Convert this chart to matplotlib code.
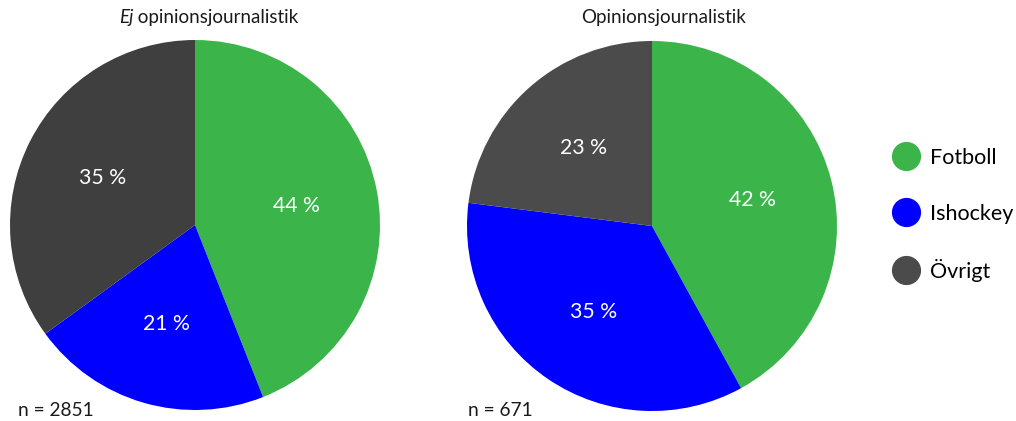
import matplotlib
matplotlib.use("Agg")
import matplotlib.pyplot as plt
from matplotlib.lines import Line2D

plt.rcParams['font.family'] = ['Lato', 'DejaVu Sans']

categories = ['Fotboll', 'Ishockey', 'Övrigt']
ej_opinion = [44, 21, 35]
opinion = [42, 35, 23]
n_ej = 2851
n_op = 671

green = '#3BB54A'
blue = '#0000FF'
gray_left = '#3F3F3F'
gray_right = '#4B4B4B'

fig = plt.figure(figsize=(10.16, 4.21), dpi=100)
W, H = 1016, 421


def pie_axes(cx, cy, r):
    ax = fig.add_axes([(cx - r) / W, (H - cy - r) / H, 2 * r / W, 2 * r / H])
    ax.set_xlim(-1, 1)
    ax.set_ylim(-1, 1)
    ax.axis('off')
    return ax


def draw_pie(ax, values, colors):
    ax.pie(values, colors=colors, startangle=90, counterclock=False,
           radius=1, center=(0, 0), frame=False,
           autopct=lambda p: f'{p:.0f} %', pctdistance=0.56,
           textprops=dict(color='white', fontsize=15.3),
           wedgeprops=dict(linewidth=0))
    ax.set_xlim(-1, 1)
    ax.set_ylim(-1, 1)


ax1 = pie_axes(195, 225, 185)
draw_pie(ax1, ej_opinion, [green, blue, gray_left])
ax2 = pie_axes(652, 226, 185)
draw_pie(ax2, opinion, [green, blue, gray_right])

# titles
t_ej = fig.text(119 / W, 1 - 18 / H, 'Ej', style='italic', fontsize=13.5,
                ha='left', va='center', color='#1a1a1a')
fig.canvas.draw()
ext = t_ej.get_window_extent()
fig.text(ext.x1 / W, 1 - 18 / H, ' opinionsjournalistik', fontsize=13.5,
         ha='left', va='center', color='#1a1a1a')
fig.text(664 / W, 1 - 18 / H, 'Opinionsjournalistik', fontsize=13.5,
         ha='center', va='center', color='#1a1a1a')

# sample sizes
fig.text(18 / W, 1 - 410 / H, f'n = {n_ej}', fontsize=13.8, ha='left',
         va='center', color='#1a1a1a')
fig.text(468 / W, 1 - 410 / H, f'n = {n_op}', fontsize=13.8, ha='left',
         va='center', color='#1a1a1a')

handles = [Line2D([], [], marker='o', linestyle='none', markersize=20,
                  markerfacecolor=c, markeredgecolor=c)
           for c in [green, blue, gray_right]]
fig.legend(handles, categories, loc='center left',
           bbox_to_anchor=(884 / W, 1 - 215 / H), frameon=False,
           fontsize=15.5, labelspacing=1.65, handletextpad=0.65,
           handlelength=1.0, borderpad=0)

fig.savefig('out.png', dpi=100, facecolor='white')
